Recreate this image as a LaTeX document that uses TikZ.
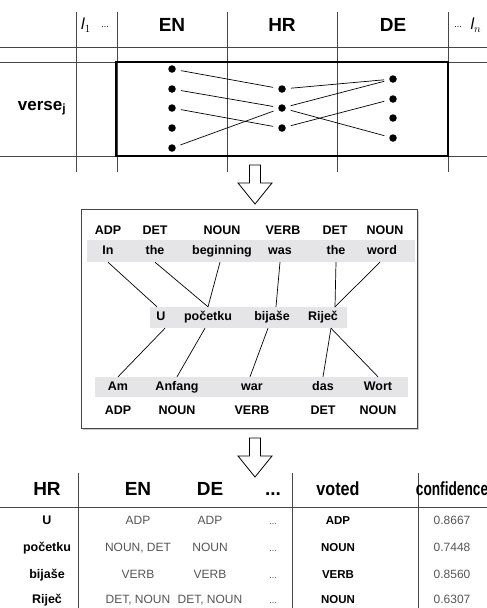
\documentclass[tikz,border=0pt]{standalone}
\usepackage{fontspec}
\usepackage{graphicx}
\setmainfont{Liberation Sans}
\usetikzlibrary{shadows}
\definecolor{gridgray}{RGB}{70,70,70}
\definecolor{bandgray}{RGB}{229,229,232}
\definecolor{lighttext}{RGB}{85,85,85}
\newcommand{\lang}[1]{\ensuremath{\mathit{l}_{#1}}}
% hollow arrow pointing down, (x, top y)
\newcommand{\downarrowat}[2]{\draw[line width=0.8pt,fill=white] (#1-5.5,#2) -- (#1+5.5,#2) -- (#1+5.5,#2+18) -- (#1+17,#2+18) -- (#1,#2+39) -- (#1-17,#2+18) -- (#1-5.5,#2+18) -- cycle;}

\begin{document}
\begin{tikzpicture}[x=1pt,y=-1pt,
		gridline/.style={draw=gridgray,line width=0.7pt},
		colhead/.style={font=\fontsize{19}{22}\selectfont\bfseries},
		dot/.style={circle,fill=black,inner sep=0pt,minimum size=7.5pt},
		link/.style={line width=0.7pt,shorten <=5pt,shorten >=5pt},
		band/.style={fill=bandgray,inner sep=0pt},
		postag/.style={font=\fontsize{12.5}{14}\selectfont\bfseries,inner sep=0pt},
		word/.style={font=\fontsize{12.5}{14}\selectfont\bfseries,inner sep=0pt,text height=1.6ex,text depth=.3ex},
		alignline/.style={line width=0.7pt},
		thead/.style={font=\fontsize{19}{22}\selectfont\bfseries,text height=1.5ex,text depth=.25ex},
		tword/.style={font=\fontsize{12.5}{14}\selectfont\bfseries,text height=1.6ex,text depth=.3ex},
		tval/.style={font=\fontsize{12}{14}\selectfont,text=lighttext,text height=1.6ex,text depth=.3ex},
		tvote/.style={font=\fontsize{11.5}{14}\selectfont\bfseries,text height=1.6ex,text depth=.3ex}]
\useasboundingbox (0,0) rectangle (487,608);

% language grid
\draw[gridline] (0,47) -- (487,47);
\draw[gridline] (0,62) -- (487,62);
\draw[gridline] (0,156) -- (487,156);
\foreach \x in {76,117,227,337,448}
	\draw[gridline] (\x,12) -- (\x,172);
\node (l1)  at (86,25)  {\fontsize{16}{18}\selectfont\lang{1}};
\node (dl)  at (105,27) {\small ...};
\node[colhead] (en) at (172,25) {EN};
\node[colhead] (hr) at (282,25) {HR};
\node[colhead] (de) at (393,25) {DE};
\node (dr)  at (458,27) {\small ...};
\node (ln)  at (476,25) {\fontsize{16}{18}\selectfont\lang{n}};
\node[font=\fontsize{17}{20}\selectfont\bfseries] (verse) at (42,108) {verse\textsubscript{j}};
\draw[line width=2.6pt] (116,62) rectangle (448,156);

% verse alignment
\foreach \i/\y in {1/69,2/89,3/108,4/128,5/148}
	\node[dot] (e\i) at (172,\y) {};
\foreach \i/\y in {1/89,2/108,3/128}
	\node[dot] (h\i) at (282,\y) {};
\foreach \i/\y in {1/79,2/99,3/118,4/138}
	\node[dot] (d\i) at (393,\y) {};
\draw[link] (e1) -- (h1);
\draw[link] (e2) -- (h2);
\draw[link] (e3) -- (h3);
\draw[link] (e5) -- (h2);
\draw[link] (h1) -- (d1);
\draw[link] (h2) -- (d1);
\draw[link] (h3) -- (d2);
\draw[link] (h2) -- (d4);

\downarrowat{255}{165}

% projection panel
\node[draw=gridgray,line width=0.9pt,fill=white,minimum width=336pt,minimum height=219pt,
	drop shadow={shadow xshift=2pt,shadow yshift=-2pt,opacity=0.4}] (panel) at (249,318.5) {};
\node[band,minimum width=328pt,minimum height=22pt] (enband) at (251,251) {};
\node[band,minimum width=197pt,minimum height=21pt] (hrband) at (248.5,317.5) {};
\node[band,minimum width=313pt,minimum height=20pt] (deband) at (251.5,387) {};

\node[postag] (p1) at (108,230) {ADP};
\node[postag] (p2) at (155,230) {DET};
\node[postag] (p3) at (222,230) {NOUN};
\node[postag] (p4) at (283,230) {VERB};
\node[postag] (p5) at (335,230) {DET};
\node[postag] (p6) at (385,230) {NOUN};

\node[word,minimum height=22pt] (in)    at (108,251) {In};
\node[word,minimum height=22pt] (the1)  at (155,251) {the};
\node[word,minimum height=22pt] (beg)   at (222,251) {beginning};
\node[word,minimum height=22pt] (was)   at (280,251) {was};
\node[word,minimum height=22pt] (the2)  at (336,251) {the};
\node[word,minimum height=22pt] (wrd)   at (382,251) {word};

\node[word,minimum height=21pt] (u)     at (161,317.5) {U};
\node[word,minimum height=21pt] (poc)   at (208,317.5) {početku};
\node[word,minimum height=21pt] (bij)   at (272,317.5) {bijaše};
\node[word,minimum height=21pt] (rij)   at (323,317.5) {Riječ};

\node[word,minimum height=20pt] (am)    at (118,387) {Am};
\node[word,minimum height=20pt] (anf)   at (177,387) {Anfang};
\node[word,minimum height=20pt] (war)   at (252,387) {war};
\node[word,minimum height=20pt] (das)   at (323,387) {das};
\node[word,minimum height=20pt] (wort)  at (378,387) {Wort};

\node[postag] (q1) at (118,410) {ADP};
\node[postag] (q2) at (177,410) {NOUN};
\node[postag] (q3) at (252,410) {VERB};
\node[postag] (q4) at (323,410) {DET};
\node[postag] (q5) at (378,410) {NOUN};

\draw[alignline] (in.south)   -- ([xshift=-4pt]u.north);
\draw[alignline] (the1.south) -- (poc.north);
\draw[alignline] ([xshift=-2pt]beg.south) -- (poc.north);
\draw[alignline] (was.south)  -- ([xshift=4pt]bij.north);
\draw[alignline] (the2.south) -- ([xshift=12pt]rij.north);
\draw[alignline] ([xshift=-2pt]wrd.south) -- ([xshift=12pt]rij.north);
\draw[alignline] ([xshift=4pt]u.south) -- (am.north);
\draw[alignline] ([xshift=-3pt]poc.south) -- (anf.north);
\draw[alignline] ([xshift=-4pt]bij.south) -- ([xshift=-2pt]war.north);
\draw[alignline] ([xshift=8pt]rij.south) -- (das.north);
\draw[alignline] ([xshift=8pt]rij.south) -- (wort.north);

\downarrowat{255}{438}

% voting table
\draw[gridline] (0,507) -- (487,507);
\foreach \x in {78,292,418}
	\draw[gridline] (\x,473) -- (\x,608);
\node[thead] (th1) at (47,492)  {HR};
\node[thead] (th2) at (138,492) {EN};
\node[thead] (th3) at (210,492) {DE};
\node[thead] (th4) at (273,492) {...};
\node[thead] (th5) at (338,492) {\scalebox{0.85}[1]{voted}};
\node[thead] (th6) at (452,492) {\scalebox{0.72}[1]{confidence}};
\foreach \w/\en/\de/\v/\c/\y [count=\r] in {U/ADP/ADP/ADP/0.8667/521,
		početku/{NOUN, DET}/NOUN/NOUN/0.7448/548,
		bijaše/VERB/VERB/VERB/0.8560/575,
		Riječ/{DET, NOUN}/{DET, NOUN}/NOUN/0.6307/600}{
	\node[tword] (w\r) at (47,\y)  {\w};
	\node[tval]  (a\r) at (138,\y) {\en};
	\node[tval]  (b\r) at (210,\y) {\de};
	\node[tval]  (o\r) at (273,\y) {\small ...};
	\node[tvote] (v\r) at (338,\y) {\v};
	\node[tval]  (c\r) at (452,\y) {\c};
}
\end{tikzpicture}
\end{document}
